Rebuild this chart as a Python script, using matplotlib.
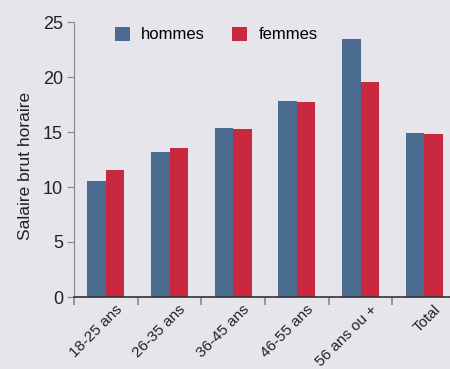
import numpy as np
import matplotlib.pyplot as plt
import matplotlib.transforms as mtransforms

categories = ['18-25 ans', '26-35 ans', '36-45 ans', '46-55 ans', '56 ans ou +', 'Total']
hommes = [10.55, 13.2, 15.35, 17.8, 23.45, 14.9]
femmes = [11.55, 13.55, 15.3, 17.75, 19.55, 14.8]

plt.rcParams['font.family'] = ['Liberation Sans', 'DejaVu Sans']

bg = '#e7e5ec'
blue = '#4a6a8f'
red = '#c8293f'

fig = plt.figure(figsize=(4.5, 3.69), dpi=100, facecolor=bg)
ax = fig.add_axes([74/450, 72/369, 382/450, 275/369])
ax.set_facecolor(bg)

x = np.arange(len(categories))
w = 0.29
ax.bar(x - w/2, hommes, w, color=blue, label='hommes')
ax.bar(x + w/2, femmes, w, color=red, label='femmes')

ax.set_xlim(-0.5, len(categories) - 0.5)
ax.set_ylim(0, 25)
ax.set_yticks([0, 5, 10, 15, 20, 25])
ax.tick_params(axis='y', labelsize=13, length=5, color='#888888', labelcolor='#222222', pad=3)

ax.set_xticks(x)
ax.set_xticklabels(categories, rotation=45, ha='right', rotation_mode='anchor', fontsize=11, color='#222222')
ax.tick_params(axis='x', length=0, pad=4)
ax.set_xticks(np.arange(len(categories) + 1) - 0.5, minor=True)
ax.tick_params(axis='x', which='minor', length=6, color='#888888', width=1.2)
offset = mtransforms.ScaledTranslation(9/100, 0, fig.dpi_scale_trans)
for lab in ax.get_xticklabels():
    lab.set_transform(lab.get_transform() + offset)

for s in ['top', 'right']:
    ax.spines[s].set_visible(False)
ax.spines['left'].set_color('#888888')
ax.spines['bottom'].set_color('#333333')
ax.spines['bottom'].set_linewidth(1.2)

ax.set_ylabel('Salaire brut horaire', fontsize=12.5, color='#222222')
ax.yaxis.set_label_coords(-0.107, 0.478)

ax.legend(loc='upper left', bbox_to_anchor=(108/450, 1 - 20/369), bbox_transform=fig.transFigure,
          ncol=2, frameon=False, fontsize=12, handlelength=0.9, handleheight=0.9,
          handletextpad=0.7, columnspacing=1.6, borderaxespad=0)

fig.savefig('out.png', dpi=100, facecolor=bg)
